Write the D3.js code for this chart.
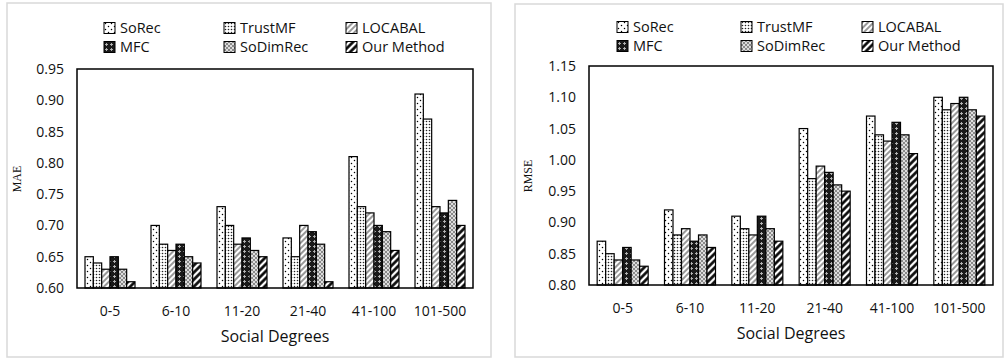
<!DOCTYPE html>
<html>
<head>
<meta charset="utf-8">
<script src="https://cdn.jsdelivr.net/npm/d3@7"></script>
<style>
  body { margin: 0; background: #fff; }
  svg { display: block; font-family: "Open Sans", sans-serif; }
</style>
</head>
<body>
<div id="chart"></div>
<script>
// categories on the x axis
const categories = ['0-5', '6-10', '11-20', '21-40', '41-100', '101-500'];
// methods, in legend order
const methods = ['SoRec', 'TrustMF', 'LOCABAL', 'MFC', 'SoDimRec', 'Our Method'];

// MAE values, one array per method (same order as categories)
const maeSoRec    = [0.65, 0.70, 0.73, 0.68, 0.81, 0.91];
const maeTrustMF  = [0.64, 0.67, 0.70, 0.65, 0.73, 0.87];
const maeLocabal  = [0.63, 0.66, 0.67, 0.70, 0.72, 0.73];
const maeMFC      = [0.65, 0.67, 0.68, 0.69, 0.70, 0.72];
const maeSoDimRec = [0.63, 0.65, 0.66, 0.67, 0.69, 0.74];
const maeOurs     = [0.61, 0.64, 0.65, 0.61, 0.66, 0.70];

// RMSE values
const rmseSoRec    = [0.87, 0.92, 0.91, 1.05, 1.07, 1.10];
const rmseTrustMF  = [0.85, 0.88, 0.89, 0.97, 1.04, 1.08];
const rmseLocabal  = [0.84, 0.89, 0.88, 0.99, 1.03, 1.09];
const rmseMFC      = [0.86, 0.87, 0.91, 0.98, 1.06, 1.10];
const rmseSoDimRec = [0.84, 0.88, 0.89, 0.96, 1.04, 1.08];
const rmseOurs     = [0.83, 0.86, 0.87, 0.95, 1.01, 1.07];

const maeTicks  = [0.60, 0.65, 0.70, 0.75, 0.80, 0.85, 0.90, 0.95];
const rmseTicks = [0.80, 0.85, 0.90, 0.95, 1.00, 1.05, 1.10, 1.15];

const maeSeries  = [maeSoRec, maeTrustMF, maeLocabal, maeMFC, maeSoDimRec, maeOurs];
const rmseSeries = [rmseSoRec, rmseTrustMF, rmseLocabal, rmseMFC, rmseSoDimRec, rmseOurs];

const svg = d3.select('#chart').append('svg')
    .attr('width', 1005)
    .attr('height', 358);

// fill patterns, one per method
const defs = svg.append('defs');

function pattern(id, size, transform) {
  const p = defs.append('pattern')
      .attr('id', id)
      .attr('patternUnits', 'userSpaceOnUse')
      .attr('width', size)
      .attr('height', size);
  if (transform) p.attr('patternTransform', transform);
  return p;
}

// SoRec: sparse dots
let p = pattern('pat0', 6);
p.append('rect').attr('width', 6).attr('height', 6).attr('fill', '#fff');
p.append('circle').attr('cx', 1.5).attr('cy', 1.5).attr('r', 0.75).attr('fill', '#000');
p.append('circle').attr('cx', 4.5).attr('cy', 4.5).attr('r', 0.75).attr('fill', '#000');

// TrustMF: dense dots
p = pattern('pat1', 3);
p.append('rect').attr('width', 3).attr('height', 3).attr('fill', '#fff');
p.append('circle').attr('cx', 1.5).attr('cy', 1.5).attr('r', 0.8).attr('fill', '#222');

// LOCABAL: thin diagonal lines
p = pattern('pat2', 4, 'rotate(45)');
p.append('rect').attr('width', 4).attr('height', 4).attr('fill', '#fff');
p.append('line').attr('x1', 1).attr('y1', 0).attr('x2', 1).attr('y2', 4)
    .attr('stroke', '#333').attr('stroke-width', 1);

// MFC: dark with light crosses
p = pattern('pat3', 5);
p.append('rect').attr('width', 5).attr('height', 5).attr('fill', '#1a1a1a');
p.append('path').attr('d', 'M2.5,1 L2.5,4 M1,2.5 L4,2.5')
    .attr('stroke', '#bbb').attr('stroke-width', 0.9);

// SoDimRec: gray checker
p = pattern('pat4', 4);
p.append('rect').attr('width', 4).attr('height', 4).attr('fill', '#8a8a8a');
p.append('rect').attr('width', 2).attr('height', 2).attr('fill', '#ddd');
p.append('rect').attr('x', 2).attr('y', 2).attr('width', 2).attr('height', 2).attr('fill', '#ddd');

// Our Method: thick diagonal lines
p = pattern('pat5', 5, 'rotate(45)');
p.append('rect').attr('width', 5).attr('height', 5).attr('fill', '#fff');
p.append('line').attr('x1', 1.5).attr('y1', 0).attr('x2', 1.5).attr('y2', 5)
    .attr('stroke', '#000').attr('stroke-width', 2.6);

const fills = methods.map((m, i) => 'url(#pat' + i + ')');

function drawPanel(cfg) {
  // light gray outer border
  svg.append('rect')
      .attr('x', cfg.box[0]).attr('y', cfg.box[1])
      .attr('width', cfg.box[2]).attr('height', cfg.box[3])
      .attr('fill', 'none')
      .attr('stroke', '#d9d9d9')
      .attr('stroke-width', 1.5);

  const g = svg.append('g')
      .attr('transform', 'translate(' + cfg.left + ',' + cfg.top + ')');

  const x = d3.scaleBand().domain(categories).range([0, cfg.width]).padding(0);
  const xs = d3.scaleBand().domain(methods).range([0, x.bandwidth()]).paddingOuter(0.96);
  const y = d3.scaleLinear().domain(cfg.domain).range([cfg.height, 0]);

  // bars
  const rows = [];
  categories.forEach((c, ci) => {
    methods.forEach((m, mi) => rows.push({ c: c, m: m, mi: mi, v: cfg.series[mi][ci] }));
  });

  g.selectAll('rect.bar')
      .data(rows)
      .join('rect')
      .attr('class', 'bar')
      .attr('x', d => x(d.c) + xs(d.m))
      .attr('y', d => y(d.v))
      .attr('width', xs.bandwidth())
      .attr('height', d => cfg.height - y(d.v))
      .attr('fill', d => fills[d.mi])
      .attr('stroke', '#000')
      .attr('stroke-width', 1.2);

  // plot frame
  g.append('rect')
      .attr('width', cfg.width)
      .attr('height', cfg.height)
      .attr('fill', 'none')
      .attr('stroke', '#000')
      .attr('stroke-width', 1.5);

  // y axis
  const yAxis = d3.axisLeft(y).tickValues(cfg.ticks).tickFormat(d3.format('.2f')).tickSize(0).tickPadding(13);
  g.append('g').call(yAxis)
      .call(a => a.select('.domain').remove())
      .selectAll('text')
      .attr('font-family', '"Open Sans", sans-serif')
      .attr('font-size', 14)
      .attr('fill', '#111');

  // x axis
  const xAxis = d3.axisBottom(x).tickSize(0).tickPadding(18);
  g.append('g')
      .attr('transform', 'translate(0,' + cfg.height + ')')
      .call(xAxis)
      .call(a => a.select('.domain').remove())
      .selectAll('text')
      .attr('font-family', '"Open Sans", sans-serif')
      .attr('font-size', 14)
      .attr('fill', '#111');

  // x title
  g.append('text')
      .attr('x', cfg.width / 2)
      .attr('y', cfg.height + 54)
      .attr('text-anchor', 'middle')
      .attr('font-size', 16)
      .attr('fill', '#111')
      .text('Social Degrees');

  // y title
  g.append('text')
      .attr('transform', 'translate(' + cfg.yLabelX + ',' + cfg.yLabelY + ') rotate(-90)')
      .attr('text-anchor', 'middle')
      .attr('font-family', '"Liberation Serif", "Times New Roman", serif')
      .attr('font-size', 12)
      .attr('fill', '#111')
      .text(cfg.yLabel);

  // legend
  const lg = svg.append('g');
  const items = lg.selectAll('g')
      .data(methods)
      .join('g')
      .attr('transform', (d, i) => 'translate(' + cfg.legendX[i % 3] + ',' + cfg.legendY[Math.floor(i / 3)] + ')');
  items.append('rect')
      .attr('x', 0).attr('y', -5.5)
      .attr('width', 11).attr('height', 11)
      .attr('fill', (d, i) => fills[i])
      .attr('stroke', '#000')
      .attr('stroke-width', 1);
  items.append('text')
      .attr('x', 16)
      .attr('dy', '0.35em')
      .attr('font-size', 14.5)
      .attr('fill', '#111')
      .text(d => d);
}

drawPanel({
  box: [7, 3, 484, 354],
  left: 77, top: 69, width: 396, height: 219,
  domain: [0.60, 0.95], ticks: maeTicks, series: maeSeries,
  yLabel: 'MAE', yLabelX: -56, yLabelY: 110,
  legendX: [104, 224, 346], legendY: [28, 47]
});

drawPanel({
  box: [515, 4, 488, 353],
  left: 589, top: 66, width: 404, height: 219,
  domain: [0.80, 1.15], ticks: rmseTicks, series: rmseSeries,
  yLabel: 'RMSE', yLabelX: -57, yLabelY: 110,
  legendX: [617, 741, 862], legendY: [27, 46]
});
</script>
</body>
</html>
